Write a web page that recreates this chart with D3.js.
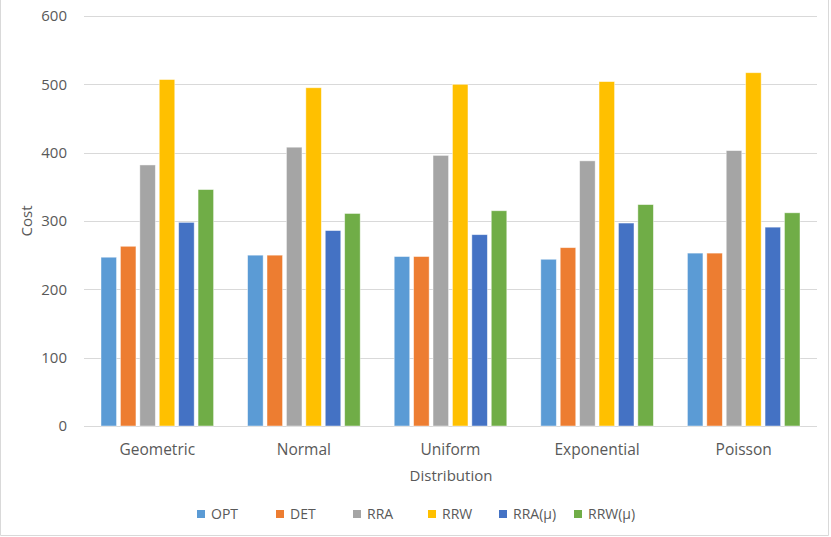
<!DOCTYPE html>
<html>
<head>
<meta charset="utf-8">
<script src="https://cdn.jsdelivr.net/npm/d3@7"></script>
<style>
  html, body { margin: 0; padding: 0; background: #fff; }
  svg { display: block; font-family: "Open Sans", sans-serif; }
</style>
</head>
<body>
<svg id="chart" width="831" height="537"></svg>
<script>
const categories = ["Geometric", "Normal", "Uniform", "Exponential", "Poisson"];
const seriesNames = ["OPT", "DET", "RRA", "RRW", "RRA(μ)", "RRW(μ)"];
const seriesColors = ["#5B9BD5", "#ED7D31", "#A5A5A5", "#FFC000", "#4472C4", "#70AD47"];
const OPT = [247, 250, 248, 244, 253];
const DET = [263, 250, 248, 261, 253];
const RRA = [382, 408, 396, 388, 403];
const RRW = [507, 495, 500, 504, 517];
const RRA_mu = [298, 286, 280, 297, 291];
const RRW_mu = [346, 311, 315, 324, 312];
const yTicks = [0, 100, 200, 300, 400, 500, 600];

const seriesValues = [OPT, DET, RRA, RRW, RRA_mu, RRW_mu];

const svg = d3.select("#chart");
const W = 831, H = 537;
const plot = { left: 84, right: 817, top: 16, bottom: 426 };
const textColor = "#595959";
const gridColor = "#D9D9D9";

// chart border
svg.append("path")
  .attr("d", `M0.5,0 V${H - 1.5} H${W - 2.5} V0`)
  .attr("fill", "none").attr("stroke", gridColor).attr("stroke-width", 1);

const y = d3.scaleLinear().domain([0, 600]).range([plot.bottom, plot.top]);
const x0 = d3.scaleBand().domain(categories).range([plot.left, plot.right])
  .paddingInner(0.232).paddingOuter(0.116);
const x1 = d3.scaleBand().domain(seriesNames).range([0, x0.bandwidth()])
  .paddingInner(0.2).paddingOuter(0);

// gridlines
svg.append("g").selectAll("line").data(yTicks).join("line")
  .attr("x1", plot.left).attr("x2", plot.right)
  .attr("y1", d => Math.round(y(d)) + 0.5).attr("y2", d => Math.round(y(d)) + 0.5)
  .attr("stroke", gridColor).attr("stroke-width", 1);

// y axis labels
const yAxis = d3.axisLeft(y).tickValues(yTicks).tickSize(0).tickPadding(0);
const gy = svg.append("g").attr("transform", `translate(67,0)`).call(yAxis);
gy.select(".domain").remove();
gy.selectAll("text").attr("fill", textColor).style("font-size", "15px")
  .style("font-family", "'Open Sans', sans-serif");

// bars
const groups = svg.append("g").selectAll("g").data(categories).join("g")
  .attr("transform", d => `translate(${x0(d)},0)`);
groups.selectAll("rect")
  .data((c, ci) => seriesNames.map((s, si) => ({ s, si, v: seriesValues[si][ci] })))
  .join("rect")
  .attr("x", d => x1(d.s))
  .attr("width", x1.bandwidth())
  .attr("y", d => y(d.v))
  .attr("height", d => y(0) - y(d.v))
  .attr("fill", d => seriesColors[d.si])
  .attr("stroke", "#ffffff").attr("stroke-opacity", 0.55).attr("stroke-width", 0.8);

// x axis labels
const xAxis = d3.axisBottom(x0).tickSize(0).tickPadding(0);
const gx = svg.append("g").attr("transform", `translate(0,${plot.bottom})`).call(xAxis);
gx.select(".domain").remove();
gx.selectAll("text").attr("fill", textColor).attr("dy", 0).attr("y", 29)
  .style("font-size", "15.5px").style("font-family", "'Open Sans', sans-serif");

// axis titles
svg.append("text").attr("x", (plot.left + plot.right) / 2 + 0.5).attr("y", 481)
  .attr("text-anchor", "middle").attr("fill", textColor).style("font-size", "15px")
  .text("Distribution");
svg.append("text").attr("transform", "translate(32,221) rotate(-90)")
  .attr("text-anchor", "middle").attr("fill", textColor).style("font-size", "15px")
  .text("Cost");

// legend
const legendX = [197, 276, 353, 428, 499, 574];
const lg = svg.append("g").selectAll("g").data(seriesNames).join("g")
  .attr("transform", (d, i) => `translate(${legendX[i]},514)`);
lg.append("rect").attr("x", 0).attr("y", -4).attr("width", 8).attr("height", 8)
  .attr("fill", (d, i) => seriesColors[i]);
lg.append("text").attr("x", 14).attr("y", 5).attr("fill", textColor)
  .style("font-size", "14px").text(d => d);
</script>
</body>
</html>
